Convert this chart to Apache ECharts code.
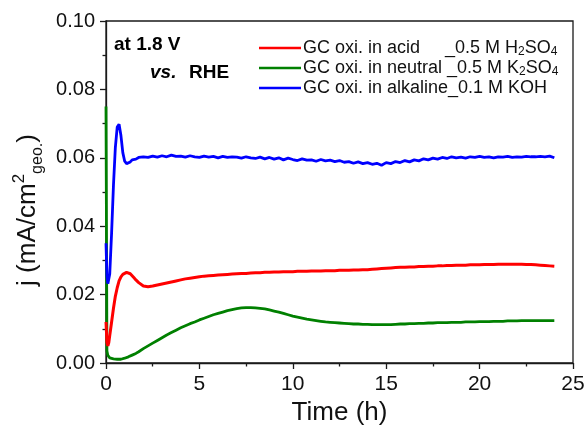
<!DOCTYPE html>
<html>
<head>
<meta charset="utf-8">
<script src="https://cdn.jsdelivr.net/npm/echarts@6/dist/echarts.min.js"></script>
<style>
html,body{margin:0;padding:0;background:#fff;}
#chart{width:587px;height:425px;}
</style>
</head>
<body>
<div id="chart"></div>
<script>
// Time (h)
var times = [
  0, 0.05, 0.1, 0.15, 0.2, 0.3, 0.4, 0.5, 0.6, 0.7, 0.8, 0.9, 1.0, 1.1, 1.2, 1.3, 1.4, 1.5, 1.6, 1.75,
  2, 2.25, 2.5, 2.75, 3, 3.25, 3.5, 3.75, 4, 4.25, 4.5, 4.75, 5, 5.25, 5.5, 5.75,
  6, 6.25, 6.5, 6.75, 7, 7.25, 7.5, 7.75, 8, 8.25, 8.5, 8.75, 9, 9.25, 9.5, 9.75,
  10, 10.25, 10.5, 10.75, 11, 11.25, 11.5, 11.75, 12, 12.25, 12.5, 12.75, 13, 13.25, 13.5, 13.75,
  14, 14.25, 14.5, 14.75, 15, 15.25, 15.5, 15.75, 16, 16.25, 16.5, 16.75, 17, 17.25, 17.5, 17.75,
  18, 18.25, 18.5, 18.75, 19, 19.25, 19.5, 19.75, 20, 20.25, 20.5, 20.75, 21, 21.25, 21.5, 21.75,
  22, 22.25, 22.5, 22.75, 23, 23.25, 23.5, 23.75, 24
];

// GC oxi. in acid _0.5 M H2SO4
var acidJ = [
  0.0120, 0.0060, 0.0050, 0.0060, 0.0080, 0.0120, 0.0160, 0.0195, 0.0220, 0.0240, 0.0252, 0.0259, 0.0263, 0.0265, 0.0264, 0.0261, 0.0255, 0.0249, 0.0243, 0.0235,
  0.0225, 0.0223, 0.0225, 0.0228, 0.0231, 0.0234, 0.0237, 0.0240, 0.0243, 0.0246, 0.0248, 0.0250, 0.0252, 0.0254, 0.0255, 0.0256,
  0.0257, 0.0258, 0.0259, 0.0260, 0.0261, 0.0262, 0.0262, 0.0263, 0.0264, 0.0264, 0.0265, 0.0265, 0.0266, 0.0266, 0.0267, 0.0267,
  0.0267, 0.0268, 0.0268, 0.0268, 0.0269, 0.0269, 0.0269, 0.0270, 0.0270, 0.0270, 0.0271, 0.0271, 0.0271, 0.0272, 0.0272, 0.0273,
  0.0273, 0.0274, 0.0275, 0.0276, 0.0277, 0.0278, 0.0279, 0.0280, 0.0280, 0.0281, 0.0281, 0.0282, 0.0282, 0.0283, 0.0283, 0.0284,
  0.0284, 0.0285, 0.0285, 0.0286, 0.0286, 0.0286, 0.0287, 0.0287, 0.0287, 0.0288, 0.0288, 0.0288, 0.0289, 0.0289, 0.0289, 0.0289,
  0.0289, 0.0289, 0.0288, 0.0288, 0.0287, 0.0286, 0.0285, 0.0284, 0.0283
];

// GC oxi. in neutral _0.5 M K2SO4
var neutralJ = [
  0.0750, 0.0035, 0.0022, 0.0017, 0.0015, 0.0013, 0.0012, 0.0011, 0.0011, 0.0011, 0.0011, 0.0012, 0.0014, 0.0016, 0.0018, 0.0020, 0.0023, 0.0025, 0.0028, 0.0033,
  0.0042, 0.0050, 0.0058, 0.0066, 0.0074, 0.0082, 0.0089, 0.0096, 0.0103, 0.0109, 0.0115, 0.0120, 0.0126, 0.0131, 0.0136, 0.0141,
  0.0145, 0.0149, 0.0153, 0.0156, 0.0159, 0.0161, 0.0162, 0.0162, 0.0161, 0.0160, 0.0158, 0.0155, 0.0152, 0.0149, 0.0145, 0.0141,
  0.0137, 0.0134, 0.0131, 0.0128, 0.0126, 0.0124, 0.0122, 0.0120, 0.0119, 0.0118, 0.0117, 0.0116, 0.0115, 0.0114, 0.0114, 0.0113,
  0.0113, 0.0112, 0.0112, 0.0112, 0.0112, 0.0112, 0.0113, 0.0114, 0.0114, 0.0115, 0.0115, 0.0116, 0.0116, 0.0117, 0.0117, 0.0118,
  0.0118, 0.0118, 0.0119, 0.0119, 0.0119, 0.0120, 0.0120, 0.0120, 0.0121, 0.0121, 0.0121, 0.0122, 0.0122, 0.0122, 0.0123, 0.0123,
  0.0123, 0.0124, 0.0124, 0.0124, 0.0124, 0.0124, 0.0124, 0.0124, 0.0124
];

// GC oxi. in alkaline_0.1 M KOH
var alkalineJ = [
  0.0350, 0.0255, 0.0232, 0.0235, 0.0260, 0.0380, 0.0520, 0.0630, 0.0690, 0.0698, 0.0665, 0.0615, 0.0590, 0.0583, 0.0582, 0.0588, 0.0594, 0.0598, 0.0596, 0.0601,
  0.0603, 0.0601, 0.0605, 0.0602, 0.0606, 0.0603, 0.0608, 0.0604, 0.0605, 0.0602, 0.0606, 0.0603, 0.0601, 0.0605, 0.0602, 0.0604,
  0.0600, 0.0604, 0.0601, 0.0603, 0.0602, 0.0599, 0.0603, 0.0600, 0.0598, 0.0602, 0.0597, 0.0601, 0.0596, 0.0600, 0.0594, 0.0599,
  0.0595, 0.0592, 0.0597, 0.0593, 0.0594, 0.0590, 0.0595, 0.0591, 0.0593, 0.0589, 0.0592, 0.0587, 0.0589, 0.0584, 0.0588, 0.0583,
  0.0586, 0.0581, 0.0584, 0.0578, 0.0586, 0.0583, 0.0589, 0.0586, 0.0592, 0.0588, 0.0594, 0.0591, 0.0597, 0.0594, 0.0599, 0.0596,
  0.0601, 0.0598, 0.0603, 0.0600, 0.0602, 0.0599, 0.0603, 0.0601, 0.0604, 0.0601, 0.0603, 0.0600, 0.0603, 0.0602, 0.0604, 0.0601,
  0.0603, 0.0602, 0.0604, 0.0603, 0.0603, 0.0604, 0.0603, 0.0605, 0.0600
];

var xTicks = ['0', '5', '10', '15', '20', '25'];
var yTicks = ['0.00', '0.02', '0.04', '0.06', '0.08', '0.10'];

function pairs(xs, ys) { return xs.map(function (t, i) { return [t, ys[i]]; }); }

var legendText = {
  acid: 'GC oxi. in acid     _0.5 M H{sub|2}SO{sub|4}',
  neutral: 'GC oxi. in neutral _0.5 M K{sub|2}SO{sub|4}',
  alkaline: 'GC oxi. in alkaline_0.1 M KOH'
};

var FONT = '"Liberation Sans", Arial, sans-serif';
var AX = '#1a1a1a';

var chart = echarts.init(document.getElementById('chart'), null, {renderer: 'canvas'});
chart.setOption({
  animation: false,
  backgroundColor: '#fff',
  grid: {left: 106, right: 14, top: 21, bottom: 62, containLabel: false, outerBoundsMode: 'none',
    show: true, borderColor: AX, borderWidth: 1.3, backgroundColor: 'transparent'},
  xAxis: {
    type: 'value', min: 0, max: 25, interval: 5,
    name: 'Time (h)', nameLocation: 'middle', nameGap: 35,
    nameTextStyle: {fontFamily: FONT, fontSize: 26, color: '#111'},
    axisLine: {show: true, onZero: false, lineStyle: {color: AX, width: 1.3}},
    axisTick: {show: true, inside: false, length: 6, lineStyle: {color: AX, width: 1.3}},
    minorTick: {show: true, splitNumber: 2, length: 3.5, lineStyle: {color: AX, width: 1.3}},
    splitLine: {show: false},
    axisLabel: {fontFamily: FONT, fontSize: 21, color: '#111', margin: 11,
      formatter: function (v) { return xTicks[Math.round(v / 5)]; }}
  },
  yAxis: {
    type: 'value', min: 0, max: 0.1, interval: 0.02,
    name: '{n|j (mA/cm}{sup|2}{sub|geo.}{n|)}', nameLocation: 'middle', nameGap: 60, nameRotate: 90,
    nameTextStyle: {fontFamily: FONT, fontSize: 26, color: '#111', lineHeight: 34, padding: [0, 36, 0, 0],
      rich: {
        n: {fontFamily: FONT, fontSize: 26, color: '#111', lineHeight: 34},
        sup: {fontFamily: FONT, fontSize: 17, color: '#111', lineHeight: 17, verticalAlign: 'top'},
        sub: {fontFamily: FONT, fontSize: 16, color: '#111', lineHeight: 16, verticalAlign: 'bottom'}
      }},
    axisLine: {show: true, onZero: false, lineStyle: {color: AX, width: 1.3}},
    axisTick: {show: true, inside: false, length: 6, lineStyle: {color: AX, width: 1.3}},
    minorTick: {show: true, splitNumber: 2, length: 3.5, lineStyle: {color: AX, width: 1.3}},
    splitLine: {show: false},
    axisLabel: {fontFamily: FONT, fontSize: 20, color: '#111', margin: 11,
      formatter: function (v) { return yTicks[Math.round(v / 0.02)]; }}
  },
  legend: {
    orient: 'vertical', left: 254, top: 33, itemWidth: 42, itemHeight: 2.5, itemGap: 0,
    icon: 'rect',
    data: ['acid', 'neutral', 'alkaline'],
    formatter: function (name) { return legendText[name]; },
    textStyle: {fontFamily: FONT, fontSize: 18, color: '#111', lineHeight: 20, padding: [0, 0, 0, -3],
      rich: {sub: {fontFamily: FONT, fontSize: 12, color: '#111', lineHeight: 12, verticalAlign: 'bottom'}}}
  },
  graphic: [
    {type: 'text', left: 114, top: 35, style: {text: 'at 1.8 V', font: 'bold 19px ' + FONT, fill: '#000'}},
    {type: 'text', left: 150, top: 63, style: {text: 'vs.', font: 'italic bold 19px ' + FONT, fill: '#000'}},
    {type: 'text', left: 189, top: 63, style: {text: 'RHE', font: 'bold 19px ' + FONT, fill: '#000'}}
  ],
  series: [
    {name: 'acid', type: 'line', data: pairs(times, acidJ), symbol: 'none', showSymbol: false,
      lineStyle: {color: '#ff0000', width: 3}, itemStyle: {color: '#ff0000'}, z: 3},
    {name: 'neutral', type: 'line', data: pairs(times, neutralJ), symbol: 'none', showSymbol: false,
      lineStyle: {color: '#008000', width: 2.8}, itemStyle: {color: '#008000'}, z: 2},
    {name: 'alkaline', type: 'line', data: pairs(times, alkalineJ), symbol: 'none', showSymbol: false,
      lineStyle: {color: '#0000ff', width: 2.8}, itemStyle: {color: '#0000ff'}, z: 4}
  ]
});
</script>
</body>
</html>
